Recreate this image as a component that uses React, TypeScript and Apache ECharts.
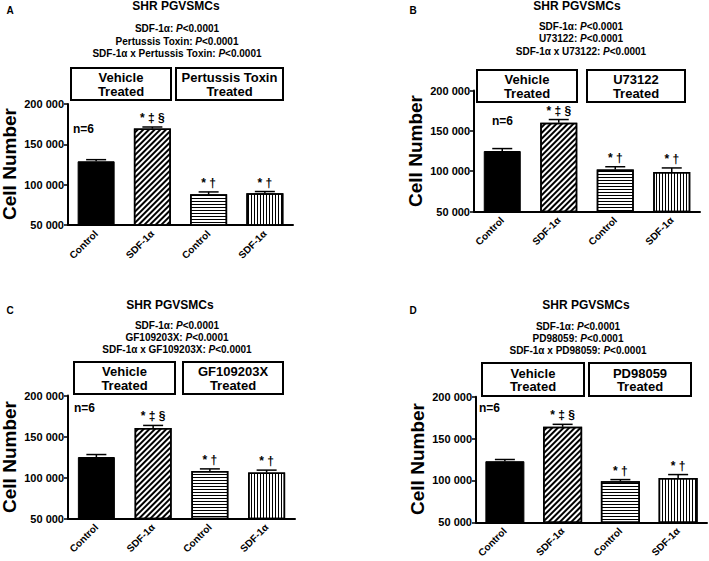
import React, { useEffect, useRef } from 'react';
import * as echarts from 'echarts';

const FONT = "'Liberation Sans', Arial, Helvetica, sans-serif";

// ---- data ----
const categories = ['Control', 'SDF-1α', 'Control', 'SDF-1α'];
const panelLetters = ['A', 'B', 'C', 'D'];
const treatments = ['Pertussis Toxin', 'U73122', 'GF109203X', 'PD98059'];
const meansA = [129000, 169500, 88000, 89500];
const semA = [2000, 2000, 3000, 2000];
const meansB = [125000, 160000, 102000, 99000];
const semB = [3000, 4000, 3500, 5000];
const meansC = [125000, 160500, 108000, 106000];
const semC = [3000, 3000, 2500, 3000];
const meansD = [123000, 164000, 99000, 103000];
const semD = [2000, 3000, 2000, 4000];
const annotations = ['', '* ‡ §', '* †', '* †'];
const yTickValues = [50000, 100000, 150000, 200000];
const yTickLabels = ['50 000', '100 000', '150 000', '200 000'];
const sampleSize = 'n=6';

const panelMeans = [meansA, meansB, meansC, meansD];
const panelSem = [semA, semB, semC, semD];

// ---- layout ----
const layouts = [
  { letter: [10, 10], grid: { left: 68, top: 104, width: 225, height: 121 }, title: [176, 6], statX: 177, statY: [28, 41, 53],
    box1: [71, 68, 100, 32], box2: [176, 68, 107, 32], ylab: [9, 164], n: [73, 129], barW: 37 },
  { letter: [413, 10], grid: { left: 474, top: 90.5, width: 226, height: 121 }, title: [577, 6], statX: 581, statY: [26, 38, 51],
    box1: [477, 70, 100, 32], box2: [587, 70, 98, 32], ylab: [415, 151], n: [492, 121], barW: 37 },
  { letter: [10, 310], grid: { left: 68, top: 395.5, width: 227, height: 123 }, title: [170, 305], statX: 177, statY: [325, 337, 349],
    box1: [74, 362, 101, 32], box2: [183, 362, 100, 32], ylab: [9, 457], n: [74, 408], barW: 37 },
  { letter: [413, 310], grid: { left: 476, top: 396.7, width: 231, height: 125.6 }, title: [586, 305], statX: 578, statY: [326, 338, 350],
    box1: [482, 363, 102, 33], box2: [589, 363, 102, 33], ylab: [417, 459], n: [479, 408], barW: 39 },
];

const decalBase = { symbol: 'rect', symbolSize: 1, dashArrayX: [1, 0], color: '#000' };
const barStyles = [
  { color: '#000', borderColor: '#000', borderWidth: 1 },
  { color: '#fff', borderColor: '#000', borderWidth: 1.5, decal: { ...decalBase, dashArrayY: [1.5, 1.5], rotation: -Math.PI / 4 } },
  { color: '#fff', borderColor: '#000', borderWidth: 1.5, decal: { ...decalBase, dashArrayY: [1, 2], rotation: 0 } },
  { color: '#fff', borderColor: '#000', borderWidth: 1.5, decal: { ...decalBase, dashArrayY: [1, 2], rotation: Math.PI / 2 } },
];

function buildOption() {
  const grids: any[] = [];
  const xAxes: any[] = [];
  const yAxes: any[] = [];
  const series: any[] = [];
  const graphics: any[] = [];

  const rich = {
    b: { fontFamily: FONT, fontWeight: 'bold', fontSize: 10, color: '#000' },
    i: { fontFamily: FONT, fontWeight: 'bold', fontStyle: 'italic', fontSize: 10, color: '#000' },
  };

  layouts.forEach((L, p) => {
    grids.push({ ...L.grid, outerBoundsMode: 'none', containLabel: false });
    xAxes.push({
      type: 'category', gridIndex: p, data: categories,
      axisLine: { lineStyle: { color: '#000', width: 2 } },
      axisTick: { alignWithLabel: true, length: 3, lineStyle: { color: '#000', width: 1.2 } },
      axisLabel: { rotate: 45, interval: 0, margin: 7, fontFamily: FONT, fontWeight: 'bold', fontSize: 10, color: '#000' },
    });
    yAxes.push({
      type: 'value', gridIndex: p, min: 50000, max: 200000, interval: 50000,
      axisLine: { show: true, lineStyle: { color: '#000', width: 2 } },
      axisTick: { show: true, length: 4, lineStyle: { color: '#000', width: 1.5 } },
      splitLine: { show: false },
      axisLabel: {
        margin: 4, fontFamily: FONT, fontWeight: 'bold', fontSize: 11, color: '#000',
        formatter: (v: number) => yTickLabels[yTickValues.indexOf(v)] ?? '',
      },
    });
    const means = panelMeans[p];
    const sem = panelSem[p];
    series.push({
      type: 'bar', xAxisIndex: p, yAxisIndex: p, barWidth: L.barW,
      data: means.map((m, j) => ({ value: m, itemStyle: barStyles[j] })),
      z: 2,
    });
    series.push({
      type: 'custom', xAxisIndex: p, yAxisIndex: p, z: 3,
      data: means.map((m, j) => [j, m, m + sem[j]]),
      renderItem: (params: any, api: any) => {
        const idx = api.value(0);
        const base = api.coord([idx, api.value(1)]);
        const top = api.coord([idx, api.value(2)]);
        const ann = annotations[params.dataIndex];
        const stroke = { stroke: '#000', lineWidth: 1.5 };
        return {
          type: 'group',
          children: [
            { type: 'line', shape: { x1: base[0], y1: base[1], x2: top[0], y2: top[1] }, style: stroke },
            { type: 'line', shape: { x1: top[0] - 10, y1: top[1], x2: top[0] + 10, y2: top[1] }, style: stroke },
            {
              type: 'text', x: top[0], y: top[1] - 9,
              style: { text: ann, align: 'center', verticalAlign: 'middle', fontFamily: FONT, fontWeight: 'bold', fontSize: 12, fill: '#000' },
            },
          ],
        };
      },
    });

    graphics.push({ type: 'text', x: L.letter[0], y: L.letter[1], style: { text: panelLetters[p], align: 'center', verticalAlign: 'middle', fontFamily: FONT, fontWeight: 'bold', fontSize: 10, fill: '#000' } });
    graphics.push({ type: 'text', x: L.title[0], y: L.title[1], style: { text: 'SHR PGVSMCs', align: 'center', verticalAlign: 'middle', fontFamily: FONT, fontWeight: 'bold', fontSize: 12, fill: '#000' } });
    const t = treatments[p];
    const statLines = [
      '{b|SDF-1α: }{i|P}{b|<0.0001}',
      `{b|${t}: }{i|P}{b|<0.0001}`,
      `{b|SDF-1α x ${t}: }{i|P}{b|<0.0001}`,
    ];
    statLines.forEach((s, k) => {
      graphics.push({ type: 'text', x: L.statX, y: L.statY[k], style: { text: s, rich, align: 'center', verticalAlign: 'middle', fontFamily: FONT, fontWeight: 'bold', fontSize: 10, fill: '#000' } });
    });
    [[L.box1, 'Vehicle\nTreated'], [L.box2, `${t}\nTreated`]].forEach(([b, txt]: any) => {
      graphics.push({ type: 'rect', shape: { x: b[0], y: b[1], width: b[2], height: b[3] }, style: { fill: '#fff', stroke: '#000', lineWidth: 2 } });
      graphics.push({ type: 'text', x: b[0] + b[2] / 2, y: b[1] + b[3] / 2 + 0.5, style: { text: txt, align: 'center', verticalAlign: 'middle', lineHeight: 13.5, fontFamily: FONT, fontWeight: 'bold', fontSize: 13, fill: '#000' } });
    });
    graphics.push({ type: 'text', x: L.ylab[0], y: L.ylab[1], rotation: Math.PI / 2, style: { text: 'Cell Number', align: 'center', verticalAlign: 'middle', fontFamily: FONT, fontWeight: 'bold', fontSize: 19, fill: '#000' } });
    graphics.push({ type: 'text', x: L.n[0], y: L.n[1], style: { text: sampleSize, align: 'left', verticalAlign: 'middle', fontFamily: FONT, fontWeight: 'bold', fontSize: 12, fill: '#000' } });
  });

  return {
    animation: false,
    backgroundColor: '#fff',
    grid: grids,
    xAxis: xAxes,
    yAxis: yAxes,
    series,
    graphic: graphics,
  };
}

export default function App() {
  const ref = useRef<HTMLDivElement>(null);
  useEffect(() => {
    if (!ref.current) return;
    const chart = echarts.init(ref.current, undefined, { renderer: 'svg' });
    chart.setOption(buildOption() as any);
    return () => chart.dispose();
  }, []);
  return <div ref={ref} style={{ position: 'fixed', left: 0, top: 0, width: 709, height: 561, background: '#fff' }} />;
}
